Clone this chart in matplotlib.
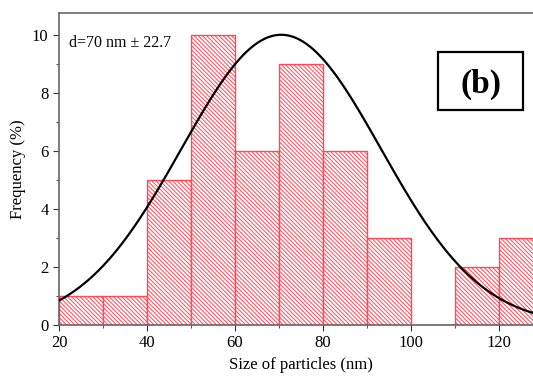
import matplotlib
matplotlib.use('Agg')
import matplotlib.pyplot as plt
from matplotlib.ticker import MultipleLocator
from matplotlib.patches import Rectangle
import numpy as np

# histogram bins (nm) and frequencies (%)
bin_left = [20, 30, 40, 50, 60, 70, 80, 90, 100, 110, 120]
freq = [1, 1, 5, 10, 6, 9, 6, 3, 0, 2, 3]
bin_width = 10

# gaussian fit parameters
fit_mean = 70.5
fit_sigma = 22.7
fit_amp = 10.0

plt.rcParams['font.family'] = ['Liberation Serif', 'DejaVu Serif']
plt.rcParams['hatch.color'] = '#f29494'
plt.rcParams['hatch.linewidth'] = 0.7

fig = plt.figure(figsize=(5.33, 3.76), dpi=100)
ax = fig.add_axes([0.1107, 0.1356, 0.908, 0.8298])

ax.bar(bin_left, freq, width=bin_width, align='edge', facecolor='white',
       edgecolor='#ff4858', linewidth=1.0, hatch='\\\\\\\\\\\\\\\\', zorder=2)

x = np.linspace(20, 130, 400)
y = fit_amp * np.exp(-(x - fit_mean) ** 2 / (2 * fit_sigma ** 2))
ax.plot(x, y, color='black', linewidth=1.6, zorder=3)

ax.set_xlim(20, 130)
ax.set_ylim(0, 10.75)
ax.xaxis.set_major_locator(MultipleLocator(20))
ax.xaxis.set_minor_locator(MultipleLocator(10))
ax.yaxis.set_major_locator(MultipleLocator(2))
ax.yaxis.set_minor_locator(MultipleLocator(1))
ax.tick_params(which='major', direction='out', length=4, labelsize=12, colors='#333333')
ax.tick_params(which='minor', direction='out', length=2, colors='#333333')
ax.tick_params(axis='both', labelcolor='black')
for s in ax.spines.values():
    s.set_color('#666666')
    s.set_linewidth(1.2)

ax.set_xlabel('Size of particles (nm)', fontsize=12)
ax.set_ylabel('Frequency (%)', fontsize=12)

ax.text(0.02, 0.905, 'd=70 nm \u00b1 22.7', transform=ax.transAxes,
        fontsize=11.5, va='center', ha='left')
ax.add_patch(Rectangle((0.783, 0.689), 0.176, 0.186, transform=ax.transAxes,
                       facecolor='white', edgecolor='black', linewidth=1.6,
                       zorder=4))
ax.text(0.871, 0.772, '(b)', transform=ax.transAxes, fontsize=24,
        fontweight='bold', ha='center', va='center', zorder=5)

fig.savefig('out.png', dpi=100)
